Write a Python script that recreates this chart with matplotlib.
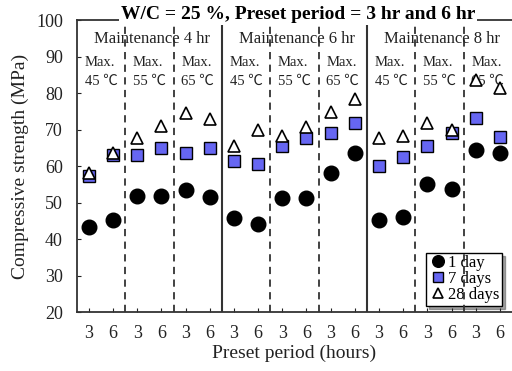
#!/usr/bin/env python3
"""Compressive strength vs preset period, W/C = 25 %."""

import matplotlib

matplotlib.use("Agg")
import matplotlib.pyplot as plt
import numpy as np

plt.rcParams["font.family"] = ["Liberation Serif", "Noto Sans CJK JP"]

PRESET = ["3", "6"] * 9
MAINTENANCE = ["Maintenance 4 hr", "Maintenance 6 hr", "Maintenance 8 hr"]
MAX_TEMP = ["45 ℃", "55 ℃", "65 ℃"]

DAY1 = [43.4, 45.3, 52.0, 52.0, 53.6, 51.5,
        45.8, 44.2, 51.4, 51.4, 58.2, 63.7,
        45.2, 46.1, 55.2, 53.9, 64.6, 63.8]
DAY7 = [57.5, 63.0, 63.0, 65.0, 63.8, 65.0,
        61.4, 60.7, 65.7, 67.9, 69.1, 71.9,
        60.0, 62.7, 65.5, 69.1, 73.2, 68.0]
DAY28 = [58.3, 63.8, 67.9, 71.2, 74.6, 73.0,
         65.5, 69.9, 68.2, 70.7, 74.9, 78.5,
         67.8, 68.2, 72.0, 70.0, 83.7, 81.5]


def main() -> int:
    fig = plt.figure(figsize=(5.12, 3.71), dpi=100)
    ax = fig.add_axes([0.150, 0.158, 0.85, 0.787])
    x = np.arange(1, len(PRESET) + 1)

    ax.plot(x, DAY1, "o", ms=10.5, color="black", mec="black", label="1 day", zorder=3)
    ax.plot(x, DAY7, "s", ms=9, color="#6666f2", mec="black", mew=1.0, label="7 days", zorder=4)
    ax.plot(x, DAY28, "^", ms=9, color="white", mec="black", mew=1.2, label="28 days", zorder=5)

    for sep in [6.5, 12.5]:
        ax.axvline(sep, color="#333333", lw=1.5, zorder=1)
    for sep in [2.5, 4.5, 8.5, 10.5, 14.5, 16.5]:
        ax.axvline(sep, color="#333333", lw=1.3, ls=(0, (4, 3)), zorder=1)

    for g, name in enumerate(MAINTENANCE):
        start = 0.5 + 6 * g
        ax.text(start + 0.72, 94.9, name, fontsize=12, ha="left", va="center", color="#222222")
        for k, temp in enumerate(MAX_TEMP):
            left = start + 2 * k + 0.32
            ax.text(left, 88.6, "Max.", fontsize=10.5, ha="left", va="center", color="#222222")
            ax.text(left, 83.4, temp, fontsize=10.5, ha="left", va="center", color="#222222")

    ax.set_xlim(0.5, 18.5)
    ax.set_ylim(20, 100)
    ax.set_xticks(x)
    ax.set_xticklabels(PRESET)
    ax.set_yticks(np.arange(20, 101, 10))
    ax.tick_params(direction="in", length=3, labelsize=13, colors="#222222")
    ax.tick_params(axis="x", pad=9)
    ax.tick_params(axis="y", pad=10)
    ax.spines["right"].set_visible(False)
    for side in ["left", "bottom", "top"]:
        ax.spines[side].set_color("#333333")
        ax.spines[side].set_linewidth(1.3)
    ax.set_xlabel("Preset period (hours)", fontsize=14, color="#222222", labelpad=2)
    ax.set_ylabel("Compressive strength (MPa)", fontsize=14, color="#222222", labelpad=5)

    fig.text(0.582, 0.962, "W/C = 25 %, Preset period = 3 hr and 6 hr", fontsize=14,
             fontweight="bold", ha="center", va="center",
             bbox=dict(facecolor="white", edgecolor="none", pad=1.5))

    leg = ax.legend(loc="upper left", bbox_to_anchor=(0.802, 0.204), fontsize=12,
                    frameon=True, fancybox=False, shadow=True, edgecolor="black",
                    handletextpad=0.0, handlelength=1.2, borderpad=0.15,
                    labelspacing=0.0, borderaxespad=0, markerscale=0.8)
    leg.get_frame().set_linewidth(1.0)
    # the dashed separator runs over the legend box in the original
    leg.set_zorder(0.9)

    fig.savefig("out.png", dpi=100)
    plt.close(fig)
    return 0


if __name__ == "__main__":
    raise SystemExit(main())
